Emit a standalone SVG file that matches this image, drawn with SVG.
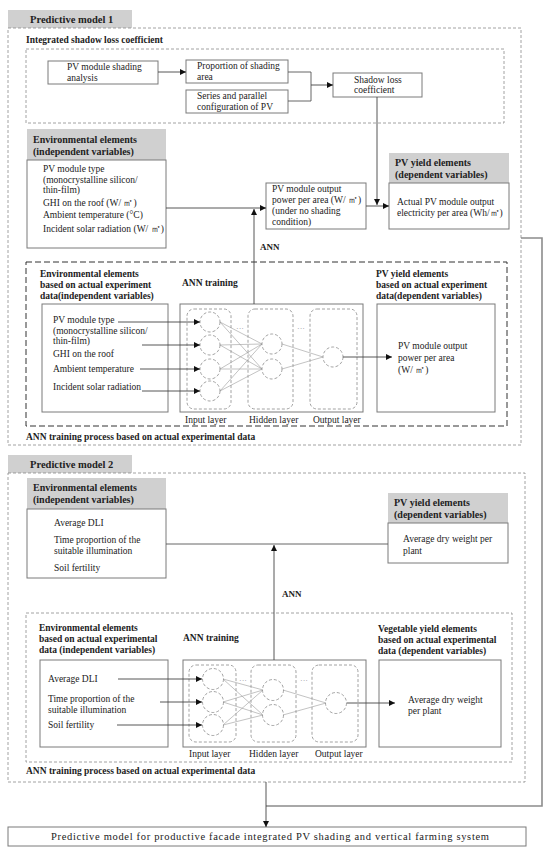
<svg xmlns="http://www.w3.org/2000/svg" width="550" height="852" viewBox="0 0 550 852">
<style>
text{font-family:"Liberation Serif","Times New Roman",serif;fill:#222;font-size:9.5px}
.b{font-weight:bold;font-size:10px}
.h{font-weight:bold;font-size:10.5px}
.hd{fill:#d0d0d0;stroke:none}
.bx{fill:#fff;stroke:#7a7a7a;stroke-width:1}
.od{fill:none;stroke:#8a8a8a;stroke-width:0.8;stroke-dasharray:3,2}
.td{fill:none;stroke:#333;stroke-width:1;stroke-dasharray:6,3}
.ly{fill:none;stroke:#8a8a8a;stroke-width:0.8;stroke-dasharray:3,2}
.nc{fill:#fff;stroke:#8a8a8a;stroke-width:0.8;stroke-dasharray:3,2}
.ln{fill:none;stroke:#555;stroke-width:0.9}
.ar{fill:none;stroke:#444;stroke-width:0.9;marker-end:url(#ah)}
.nn{stroke:#9a9a9a;stroke-width:0.6}
.gr{fill:none;stroke:#8c8c8c;stroke-width:1.6}
</style>
<defs>
<marker id="ah" markerUnits="userSpaceOnUse" markerWidth="7" markerHeight="6" refX="6" refY="3" orient="auto">
<path d="M0,0 L6,3 L0,6 z" fill="#111"/>
</marker>
</defs>
<rect width="550" height="852" fill="#fff"/>

<!-- ===== Predictive model 1 ===== -->
<g id="model1">
<rect class="hd" x="8" y="10" width="124" height="18"/>
<text class="h" x="30" y="23">Predictive model 1</text>
<rect class="od" x="8" y="28" width="513" height="417"/>
</g>

<g id="shadow-group">
<text class="b" x="26" y="43" style="font-size:9.5px">Integrated shadow loss coefficient</text>
<rect class="od" x="26" y="49" width="478" height="74"/>
</g>
<g id="shading-analysis">
<rect class="bx" x="48" y="61" width="110" height="23"/>
<text x="67" y="70">PV module shading</text>
<text x="67" y="81">analysis</text>
</g>
<g id="shading-area">
<rect class="bx" x="186" y="60" width="102" height="23"/>
<text x="197" y="69">Proportion of shading</text>
<text x="197" y="80">area</text>
</g>
<g id="series-parallel">
<rect class="bx" x="186" y="90" width="102" height="23"/>
<text x="197" y="99">Series and parallel</text>
<text x="197" y="110">configuration of PV</text>
</g>
<g id="shadow-loss">
<rect class="bx" x="333" y="73" width="89" height="24"/>
<text x="354" y="83">Shadow loss</text>
<text x="354" y="93">coefficient</text>
</g>

<g id="env1">
<rect class="hd" x="27" y="129" width="139" height="31"/>
<text class="b" x="33" y="143">Environmental elements</text>
<text class="b" x="33" y="155">(independent variables)</text>
<rect class="bx" x="27" y="160" width="139" height="88"/>
<text x="43" y="172">PV module type</text>
<text x="43" y="183">(monocrystalline silicon/</text>
<text x="43" y="193">thin-film)</text>
<text x="43" y="206">GHI  on the roof (W/ ㎡)</text>
<text x="43" y="218">Ambient temperature  (°C)</text>
<text x="43" y="232">Incident solar radiation (W/ ㎡)</text>
</g>
<g id="pv-output">
<rect class="bx" x="266" y="183" width="100" height="46"/>
<text x="272" y="192">PV module output</text>
<text x="272" y="203">power per area (W/ ㎡)</text>
<text x="272" y="214">(under no shading</text>
<text x="272" y="225">condition)</text>
</g>
<g id="pv-yield1">
<rect class="hd" x="389" y="153" width="120" height="30"/>
<text class="b" x="395" y="166">PV yield elements</text>
<text class="b" x="395" y="178">(dependent variables)</text>
<rect class="bx" x="389" y="183" width="120" height="46"/>
<text x="397" y="205">Actual PV module output</text>
<text x="397" y="216">electricity per area (Wh/㎡)</text>
</g>
<text class="b" x="260" y="250" style="font-size:9px">ANN</text>

<g id="ann1-group">
<rect class="td" x="26" y="262" width="481" height="164"/>
<text class="b" x="40" y="277" style="font-size:9.5px">Environmental elements</text>
<text class="b" x="40" y="288" style="font-size:9.5px">based on actual experiment</text>
<text class="b" x="40" y="299" style="font-size:9.5px">data(independent variables)</text>
<text class="b" x="182" y="286" style="font-size:9.5px">ANN training</text>
<text class="b" x="376" y="277" style="font-size:9.5px">PV yield  elements</text>
<text class="b" x="376" y="288" style="font-size:9.5px">based on actual experiment</text>
<text class="b" x="376" y="299" style="font-size:9.5px">data(dependent variables)</text>
<text class="b" x="26" y="440" style="font-size:9.5px">ANN training process based on actual experimental data</text>
</g>
<g id="ann1-inputs">
<rect class="bx" x="42" y="304" width="126" height="108"/>
<text x="53" y="323">PV module type</text>
<text x="53" y="334">(monocrystalline silicon/</text>
<text x="53" y="344">thin-film)</text>
<text x="53" y="357">GHI  on the roof</text>
<text x="53" y="372">Ambient  temperature</text>
<text x="53" y="390">Incident solar radiation</text>
</g>
<g id="ann1-net">
<rect class="bx" x="180" y="304" width="183" height="108"/>
<rect class="ly" x="187" y="309" width="44" height="100" rx="7"/>
<rect class="ly" x="248" y="309" width="45" height="100" rx="7"/>
<rect class="ly" x="310" y="309" width="47" height="100" rx="7"/>
<g class="nn">
<line x1="220" y1="322" x2="262" y2="344"/><line x1="220" y1="322" x2="262" y2="369"/>
<line x1="220" y1="345" x2="262" y2="344"/><line x1="220" y1="345" x2="262" y2="369"/>
<line x1="220" y1="369" x2="262" y2="344"/><line x1="220" y1="369" x2="262" y2="369"/>
<line x1="220" y1="391" x2="262" y2="344"/><line x1="220" y1="391" x2="262" y2="369"/>
<line x1="282" y1="344" x2="323" y2="357"/><line x1="282" y1="369" x2="323" y2="357"/>
</g>
<circle class="nc" cx="210" cy="322" r="10"/>
<circle class="nc" cx="210" cy="345" r="10"/>
<circle class="nc" cx="210" cy="369" r="10"/>
<circle class="nc" cx="210" cy="391" r="10"/>
<circle class="nc" cx="272" cy="344" r="10"/>
<circle class="nc" cx="272" cy="369" r="10"/>
<circle class="nc" cx="333" cy="357" r="10"/>
<text x="236" y="331" style="fill:#999;font-size:8px">···</text>
<text x="297" y="331" style="fill:#999;font-size:8px">···</text>
<text x="185" y="423">Input layer</text>
<text x="249" y="423">Hidden layer</text>
<text x="313" y="423">Output layer</text>
</g>
<g id="ann1-output">
<rect class="bx" x="377" y="304" width="118" height="108"/>
<text x="398" y="349">PV module output</text>
<text x="398" y="361">power per area</text>
<text x="398" y="373">(W/ ㎡)</text>
</g>

<!-- ===== Predictive model 2 ===== -->
<g id="model2">
<rect class="hd" x="8" y="455" width="124" height="18"/>
<text class="h" x="30" y="468">Predictive model 2</text>
<rect class="od" x="8" y="473" width="517" height="309"/>
</g>
<g id="env2">
<rect class="hd" x="27" y="478" width="139" height="31"/>
<text class="b" x="33" y="491">Environmental elements</text>
<text class="b" x="33" y="503">(independent variables)</text>
<rect class="bx" x="27" y="509" width="139" height="69"/>
<text x="54" y="526">Average DLI</text>
<text x="54" y="543">Time proportion of the</text>
<text x="54" y="554">suitable illumination</text>
<text x="54" y="571">Soil fertility</text>
</g>
<g id="pv-yield2">
<rect class="hd" x="388" y="493" width="120" height="30"/>
<text class="b" x="394" y="506">PV yield elements</text>
<text class="b" x="394" y="518">(dependent variables)</text>
<rect class="bx" x="388" y="523" width="120" height="40"/>
<text x="403" y="542">Average dry weight per</text>
<text x="403" y="554">plant</text>
</g>
<text class="b" x="282" y="597" style="font-size:9px">ANN</text>

<g id="ann2-group">
<rect class="od" x="26" y="613" width="486" height="149"/>
<text class="b" x="39" y="631" style="font-size:9.5px">Environmental elements</text>
<text class="b" x="39" y="642" style="font-size:9.5px">based on actual experimental</text>
<text class="b" x="39" y="653" style="font-size:9.5px">data (independent variables)</text>
<text class="b" x="183" y="641" style="font-size:9.5px">ANN training</text>
<text class="b" x="378" y="632" style="font-size:9.5px">Vegetable yield  elements</text>
<text class="b" x="378" y="643" style="font-size:9.5px">based on actual experimental</text>
<text class="b" x="378" y="654" style="font-size:9.5px">data (dependent variables)</text>
<text class="b" x="26" y="774" style="font-size:9.5px">ANN training process based on actual experimental data</text>
</g>
<g id="ann2-inputs">
<rect class="bx" x="40" y="660" width="128" height="87"/>
<text x="48" y="682">Average DLI</text>
<text x="48" y="702">Time proportion of the</text>
<text x="48" y="713">suitable illumination</text>
<text x="48" y="728">Soil fertility</text>
</g>
<g id="ann2-net">
<rect class="bx" x="183" y="660" width="183" height="87"/>
<rect class="ly" x="189" y="665" width="47" height="77" rx="7"/>
<rect class="ly" x="251" y="665" width="45" height="77" rx="7"/>
<rect class="ly" x="312" y="665" width="46" height="77" rx="7"/>
<g class="nn">
<line x1="223" y1="679" x2="263" y2="690"/><line x1="223" y1="679" x2="263" y2="715"/>
<line x1="223" y1="702" x2="263" y2="690"/><line x1="223" y1="702" x2="263" y2="715"/>
<line x1="223" y1="725" x2="263" y2="690"/><line x1="223" y1="725" x2="263" y2="715"/>
<line x1="283" y1="690" x2="326" y2="703"/><line x1="283" y1="715" x2="326" y2="703"/>
</g>
<circle class="nc" cx="213" cy="679" r="10.5"/>
<circle class="nc" cx="213" cy="702" r="10.5"/>
<circle class="nc" cx="213" cy="725" r="10.5"/>
<circle class="nc" cx="273" cy="690" r="10.5"/>
<circle class="nc" cx="273" cy="715" r="10.5"/>
<circle class="nc" cx="336" cy="703" r="10.5"/>
<text x="239" y="683" style="fill:#999;font-size:8px">···</text>
<text x="300" y="683" style="fill:#999;font-size:8px">···</text>
<text x="189" y="757">Input layer</text>
<text x="249" y="757">Hidden layer</text>
<text x="315" y="757">Output layer</text>
</g>
<g id="ann2-output">
<rect class="bx" x="379" y="660" width="122" height="87"/>
<text x="408" y="703">Average dry weight</text>
<text x="408" y="714">per plant</text>
</g>

<g id="final">
<rect class="bx" x="8" y="827" width="518" height="19"/>
<text x="270" y="840" text-anchor="middle" textLength="438" lengthAdjust="spacing" style="font-size:10.5px">Predictive model for productive facade integrated PV shading and vertical farming system</text>
</g>

<!-- ===== connectors ===== -->
<g id="connectors">
<line class="ar" x1="158" y1="72" x2="186" y2="72"/>
<polyline class="ln" points="288,72 311,72 311,101 288,101"/>
<line class="ar" x1="311" y1="85" x2="333" y2="85"/>
<line class="ar" x1="377" y1="97" x2="377" y2="205"/>
<line class="ar" x1="166" y1="208" x2="266" y2="208"/>
<line class="ar" x1="254" y1="304" x2="254" y2="209"/>
<line class="ar" x1="366" y1="206" x2="389" y2="206"/>
<line class="ar" x1="118" y1="322" x2="200" y2="322"/>
<line class="ar" x1="142" y1="345" x2="200" y2="345"/>
<line class="ar" x1="140" y1="369" x2="200" y2="369"/>
<line class="ar" x1="142" y1="391" x2="200" y2="391"/>
<line class="ar" x1="343" y1="357" x2="392" y2="357"/>
<polyline class="gr" points="521,238 542,238 542,806 266,806"/>
<line class="ln" x1="166" y1="544" x2="388" y2="544"/>
<line class="ar" x1="274" y1="660" x2="274" y2="545"/>
<line class="ar" x1="118" y1="679" x2="202" y2="679"/>
<line class="ar" x1="160" y1="702" x2="202" y2="702"/>
<line class="ar" x1="117" y1="725" x2="202" y2="725"/>
<line class="ar" x1="347" y1="703" x2="395" y2="703"/>
<line class="ar" x1="266" y1="782" x2="266" y2="827"/>
</g>
</svg>
